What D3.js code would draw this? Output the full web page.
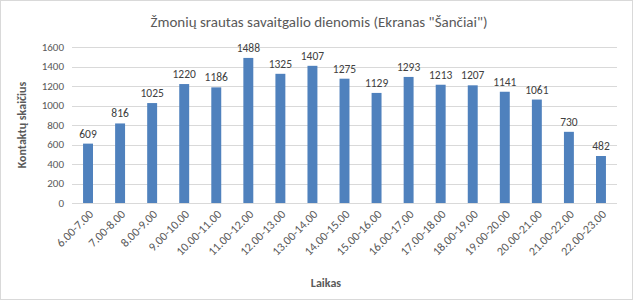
<!DOCTYPE html>
<html>
<head>
<meta charset="utf-8">
<script src="https://cdn.jsdelivr.net/npm/d3@7"></script>
<style>
	body { margin: 0; background: #fff; }
	svg { display: block; font-family: Calibri, Carlito, "Liberation Sans", Arial, sans-serif; }
</style>
</head>
<body>
<svg id="chart" width="633" height="300"></svg>
<script>
var categories = ["6.00-7.00", "7.00-8.00", "8.00-9.00", "9.00-10.00", "10.00-11.00", "11.00-12.00",
	"12.00-13.00", "13.00-14.00", "14.00-15.00", "15.00-16.00", "16.00-17.00", "17.00-18.00",
	"18.00-19.00", "19.00-20.00", "20.00-21.00", "21.00-22.00", "22.00-23.00"];
var contacts = [609, 816, 1025, 1220, 1186, 1488, 1325, 1407, 1275, 1129, 1293, 1213, 1207, 1141, 1061, 730, 482];
var yTicks = [0, 200, 400, 600, 800, 1000, 1200, 1400, 1600];

var title = "Žmonių srautas savaitgalio dienomis (Ekranas \"Šančiai\")";
var xTitle = "Laikas";
var yTitle = "Kontaktų skaičius";

function renderChart() {
	var svg = d3.select("#chart"),
		width = +svg.attr("width"),
		height = +svg.attr("height"),
		margin = {top: 47, right: 16, bottom: 97, left: 72};

	// outer border
	svg.append("rect")
		.attr("x", 0.5).attr("y", 0.5)
		.attr("width", width - 1).attr("height", height - 1)
		.attr("fill", "#fff").attr("stroke", "#d9d9d9");

	var x = d3.scaleBand()
		.domain(categories)
		.range([margin.left, width - margin.right])
		.paddingInner(0.69)
		.paddingOuter(0.345);

	var y = d3.scaleLinear()
		.domain([0, 1600])
		.range([height - margin.bottom, margin.top]);

	// gridlines
	svg.append("g")
		.selectAll("line")
		.data(yTicks)
		.enter().append("line")
		.attr("x1", margin.left)
		.attr("x2", width - margin.right)
		.attr("y1", function(d) { return Math.round(y(d)) + 0.5; })
		.attr("y2", function(d) { return Math.round(y(d)) + 0.5; })
		.attr("stroke", "#d9d9d9")
		.attr("stroke-width", 1);

	// y tick labels
	svg.append("g")
		.selectAll("text")
		.data(yTicks)
		.enter().append("text")
		.attr("x", margin.left - 8)
		.attr("y", function(d) { return y(d); })
		.attr("dy", "0.35em")
		.attr("text-anchor", "end")
		.attr("font-size", 11)
		.attr("fill", "#595959")
		.text(function(d) { return d; });

	// bars
	svg.append("g")
		.selectAll("rect")
		.data(contacts)
		.enter().append("rect")
		.attr("x", function(d, i) { return x(categories[i]); })
		.attr("y", function(d) { return y(d); })
		.attr("width", x.bandwidth())
		.attr("height", function(d) { return y(0) - y(d); })
		.attr("fill", "#4f81bd");

	// value labels
	svg.append("g")
		.selectAll("text")
		.data(contacts)
		.enter().append("text")
		.attr("x", function(d, i) { return x(categories[i]) + x.bandwidth() / 2; })
		.attr("y", function(d) { return y(d) - 6; })
		.attr("text-anchor", "middle")
		.attr("font-size", 11.5)
		.attr("fill", "#404040")
		.text(function(d) { return d; });

	// x axis line
	svg.append("line")
		.attr("x1", margin.left)
		.attr("x2", width - margin.right)
		.attr("y1", Math.round(y(0)) + 0.5)
		.attr("y2", Math.round(y(0)) + 0.5)
		.attr("stroke", "#d9d9d9");

	// x tick labels, rotated
	svg.append("g")
		.selectAll("text")
		.data(categories)
		.enter().append("text")
		.attr("transform", function(d) {
			return "translate(" + (x(d) + x.bandwidth() / 2 + 3) + "," + (y(0) + 9) + ") rotate(-45)";
		})
		.attr("text-anchor", "end")
		.attr("dy", "0.35em")
		.attr("font-size", 12)
		.attr("fill", "#595959")
		.text(function(d) { return d; });

	// title
	svg.append("text")
		.attr("x", 319)
		.attr("y", 27)
		.attr("text-anchor", "middle")
		.attr("font-size", 15)
		.attr("fill", "#595959")
		.text(title);

	// axis titles
	svg.append("text")
		.attr("x", 326)
		.attr("y", 287)
		.attr("text-anchor", "middle")
		.attr("font-size", 12)
		.attr("font-weight", "bold")
		.attr("fill", "#595959")
		.text(xTitle);

	svg.append("text")
		.attr("transform", "translate(26," + ((margin.top + y(0)) / 2) + ") rotate(-90)")
		.attr("text-anchor", "middle")
		.attr("font-size", 12)
		.attr("font-weight", "bold")
		.attr("fill", "#595959")
		.text(yTitle);
}

renderChart();
</script>
</body>
</html>
